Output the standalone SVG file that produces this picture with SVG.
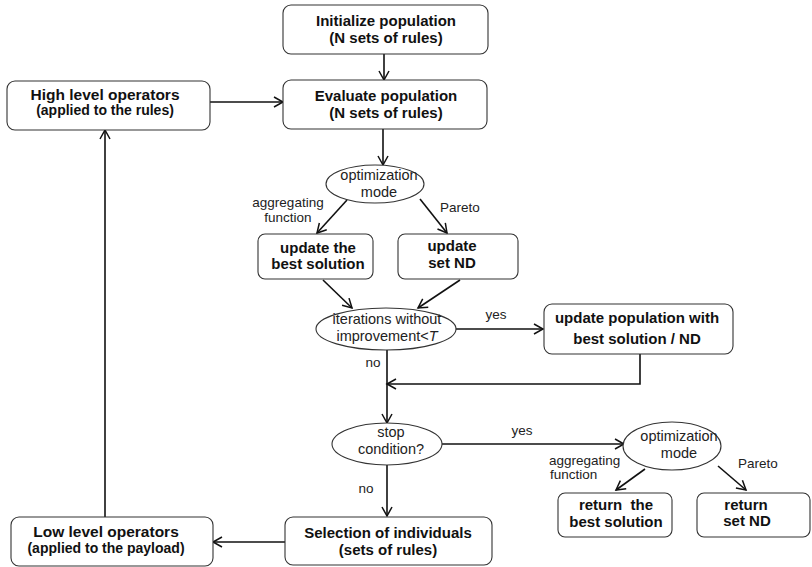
<svg xmlns="http://www.w3.org/2000/svg" width="812" height="567" viewBox="0 0 812 567">
<defs>
<marker id="arr" markerUnits="userSpaceOnUse" markerWidth="12" markerHeight="12" refX="10" refY="6" orient="auto">
<path d="M1,1 L10,6 L1,11" fill="none" stroke="#111" stroke-width="1.5"/>
</marker>
<style>
.box{fill:#fff;stroke:#333;stroke-width:1.1}
.ell{fill:#fff;stroke:#333;stroke-width:1.1}
.t{font-family:"Liberation Sans",Arial,sans-serif;font-weight:bold;font-size:15px;fill:#111;text-anchor:middle}
.s{font-family:"Liberation Sans",Arial,sans-serif;font-weight:bold;font-size:14px;fill:#111;text-anchor:middle}
.e{font-family:"Liberation Sans",Arial,sans-serif;font-size:14.5px;fill:#222;text-anchor:middle}
.l{font-family:"Liberation Sans",Arial,sans-serif;font-size:13.5px;fill:#222}
.c{fill:none;stroke:#111;stroke-width:1.6;marker-end:url(#arr)}
</style>
</defs>
<rect width="812" height="567" fill="#fff"/>
<g id="connectors">
<line class="c" x1="384" y1="54" x2="384" y2="80"/>
<line class="c" x1="210" y1="102" x2="283" y2="102"/>
<line class="c" x1="383" y1="129" x2="383" y2="165"/>
<line class="c" x1="347" y1="200" x2="317" y2="233"/>
<line class="c" x1="420" y1="199" x2="447" y2="233"/>
<line class="c" x1="323" y1="280" x2="352" y2="308"/>
<line class="c" x1="460" y1="280" x2="418" y2="308"/>
<line class="c" x1="455" y1="329" x2="543" y2="329"/>
<polyline class="c" points="640,354 640,384 387,384"/>
<line class="c" x1="387" y1="350" x2="387" y2="423"/>
<line class="c" x1="442" y1="444" x2="624" y2="444"/>
<line class="c" x1="645" y1="469" x2="616" y2="490"/>
<line class="c" x1="718" y1="466" x2="746" y2="490"/>
<line class="c" x1="387" y1="465" x2="387" y2="516"/>
<line class="c" x1="285" y1="542" x2="213" y2="542"/>
<line class="c" x1="105" y1="517" x2="105" y2="130"/>
<text class="l" x="288" y="207" text-anchor="middle">aggregating</text>
<text class="l" x="288" y="222" text-anchor="middle">function</text>
<text class="l" x="440" y="212">Pareto</text>
<text class="l" x="496" y="319" text-anchor="middle">yes</text>
<text class="l" x="373" y="367" text-anchor="middle">no</text>
<text class="l" x="522" y="435" text-anchor="middle">yes</text>
<text class="l" x="366" y="493" text-anchor="middle">no</text>
<text class="l" x="549" y="465">aggregating</text>
<text class="l" x="550" y="479">function</text>
<text class="l" x="738" y="468">Pareto</text>
</g>
<g id="init">
<rect class="box" x="283" y="5" width="205" height="49" rx="8"/>
<text class="t" x="386" y="26">Initialize population</text>
<text class="t" x="386" y="43">(N sets of rules)</text>
</g>
<g id="evaluate">
<rect class="box" x="283" y="80" width="204" height="49" rx="8"/>
<text class="t" x="386" y="101">Evaluate population</text>
<text class="t" x="386" y="118">(N sets of rules)</text>
</g>
<g id="high">
<rect class="box" x="7" y="81" width="203" height="49" rx="8"/>
<text class="t" x="105" y="100" style="font-size:15.5px">High level operators</text>
<text class="s" x="105" y="115">(applied to the rules)</text>
</g>
<g id="opt1">
<ellipse class="ell" cx="375" cy="184" rx="49" ry="19"/>
<text class="e" x="379" y="180">optimization</text>
<text class="e" x="379" y="197">mode</text>
</g>
<g id="updbest">
<rect class="box" x="258" y="234" width="115" height="45" rx="7"/>
<text class="t" x="318" y="253">update the</text>
<text class="t" x="318" y="269">best solution</text>
</g>
<g id="updnd">
<rect class="box" x="398" y="234" width="120" height="45" rx="7"/>
<text class="t" x="452" y="251">update</text>
<text class="t" x="452" y="268">set ND</text>
</g>
<g id="iter">
<ellipse class="ell" cx="386" cy="329" rx="70" ry="21"/>
<text class="e" x="387" y="324">iterations without</text>
<text class="e" x="387" y="341">improvement&lt;<tspan font-style="italic">T</tspan></text>
</g>
<g id="updpop">
<rect class="box" x="544" y="304" width="189" height="50" rx="8"/>
<text class="t" x="637" y="323">update population with</text>
<text class="t" x="637" y="344">best solution / ND</text>
</g>
<g id="stop">
<ellipse class="ell" cx="387" cy="444" rx="55" ry="21"/>
<text class="e" x="391" y="437">stop</text>
<text class="e" x="391" y="454">condition?</text>
</g>
<g id="opt2">
<ellipse class="ell" cx="672" cy="446" rx="49" ry="24"/>
<text class="e" x="679" y="441">optimization</text>
<text class="e" x="679" y="458">mode</text>
</g>
<g id="retbest">
<rect class="box" x="558" y="493" width="114" height="44" rx="7"/>
<text class="t" x="616" y="510" xml:space="preserve">return  the</text>
<text class="t" x="616" y="527">best solution</text>
</g>
<g id="retnd">
<rect class="box" x="697" y="493" width="113" height="44" rx="7"/>
<text class="t" x="746" y="510">return</text>
<text class="t" x="747" y="526">set ND</text>
</g>
<g id="selection">
<rect class="box" x="285" y="517" width="207" height="48" rx="8"/>
<text class="t" x="388" y="538">Selection of individuals</text>
<text class="t" x="388" y="555">(sets of rules)</text>
</g>
<g id="low">
<rect class="box" x="11" y="517" width="202" height="49" rx="8"/>
<text class="t" x="106" y="537" style="font-size:15.5px">Low level operators</text>
<text class="s" x="106" y="553">(applied to the payload)</text>
</g>
</svg>
